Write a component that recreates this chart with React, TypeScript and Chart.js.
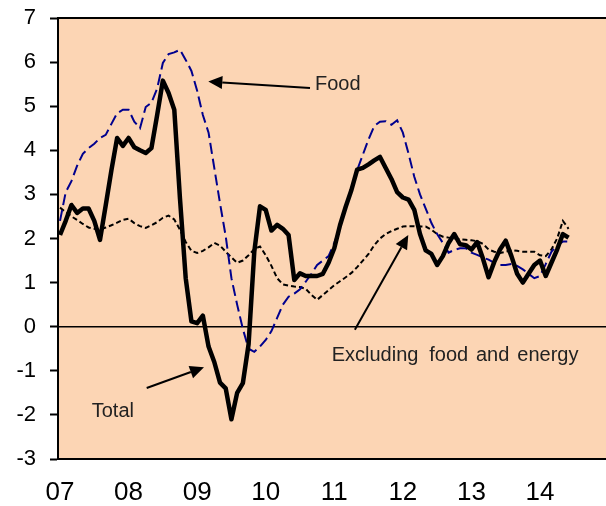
import React, { useEffect, useRef } from "react";
import { Chart, registerables } from "chart.js";

Chart.register(...registerables);

// Year tick labels (one per January)
const yearLabels = ["07", "08", "09", "10", "11", "12", "13", "14"];
const yTickValues = [-3, -2, -1, 0, 1, 2, 3, 4, 5, 6, 7];

// Monthly series, Jan 2007 onward (index = months since Jan 2007)
const total = [
  2.08, 2.4, 2.76, 2.58, 2.68, 2.68, 2.4, 1.97, 2.75, 3.55,
  4.28, 4.1, 4.28, 4.07, 4.0, 3.94, 4.05, 4.8, 5.58, 5.3,
  4.92, 2.9, 1.1, 0.12, 0.08, 0.25, -0.45, -0.8, -1.27, -1.4,
  -2.1, -1.5, -1.28, -0.4, 1.7, 2.73, 2.65, 2.18, 2.31, 2.22,
  2.08, 1.06, 1.21, 1.15, 1.15, 1.15, 1.2, 1.45, 1.78, 2.3,
  2.72, 3.1, 3.56, 3.6, 3.68, 3.77, 3.85, 3.6, 3.35, 3.05,
  2.93, 2.88, 2.65, 2.1, 1.73, 1.65, 1.4, 1.6, 1.9, 2.1,
  1.87, 1.85, 1.75, 1.92, 1.55, 1.12, 1.47, 1.75, 1.95, 1.6,
  1.2, 1.0, 1.2, 1.4, 1.5, 1.15, 1.45, 1.75, 2.1, 2.02,
];

const food = [
  2.4, 3.05, 3.3, 3.65, 3.92, 4.05, 4.15, 4.28, 4.35, 4.6,
  4.84, 4.92, 4.92, 4.65, 4.5, 4.98, 5.08, 5.4, 5.98, 6.18,
  6.22, 6.28, 6.05, 5.8, 5.35, 4.8, 4.4, 3.6, 2.8, 2.05,
  1.1, 0.5, -0.05, -0.5, -0.57, -0.45, -0.3, -0.1, 0.2, 0.5,
  0.68, 0.75, 0.85, 1.02, 1.2, 1.4, 1.5, 1.6, 1.9, 2.25,
  2.7, 3.1, 3.55, 3.9, 4.25, 4.55, 4.65, 4.66, 4.58, 4.68,
  4.4, 3.92, 3.4, 3.0, 2.68, 2.35, 2.1, 1.9, 1.68, 1.74,
  1.78, 1.78, 1.68, 1.63, 1.57, 1.52, 1.45, 1.4, 1.4, 1.42,
  1.38, 1.3, 1.2, 1.1, 1.15, 1.42, 1.7, 1.85, 1.93, 1.93,
];

const core = [
  2.7, 2.6, 2.5, 2.42, 2.33, 2.25, 2.22, 2.2, 2.25, 2.3,
  2.36, 2.42, 2.45, 2.35, 2.28, 2.24, 2.3, 2.37, 2.47, 2.52,
  2.43, 2.2, 1.92, 1.72, 1.67, 1.72, 1.8, 1.9, 1.84, 1.7,
  1.57, 1.45, 1.5, 1.62, 1.76, 1.82, 1.62, 1.38, 1.1, 0.96,
  0.93, 0.91, 0.9, 0.86, 0.72, 0.61, 0.72, 0.83, 0.94, 1.03,
  1.12, 1.22, 1.35, 1.5, 1.65, 1.85, 2.0, 2.1, 2.17, 2.22,
  2.27, 2.28, 2.28, 2.27, 2.27, 2.2, 2.1, 2.04, 2.02, 2.0,
  1.98, 1.97, 1.96, 1.94, 1.88, 1.75, 1.7, 1.67, 1.7, 1.74,
  1.72, 1.7, 1.7, 1.7, 1.62, 1.6, 1.75, 2.0, 2.4, 2.22,
];

// Annotation texts (data coordinates: month index, value)
const textNotes = [
  { text: "Food", m: 44.63, v: 5.37 },
  { text: "Total", m: 5.55, v: -2.04 },
  { text: "Excluding", m: 47.55, v: -0.77 },
  { text: "food", m: 64.63, v: -0.77 },
  { text: "and", m: 72.8, v: -0.77 },
  { text: "energy", m: 80.03, v: -0.77 },
];
const arrowNotes = [
  { from: [43.75, 5.41], to: [25.95, 5.56] },
  { from: [15.17, -1.39], to: [25.2, -0.92] },
  { from: [51.6, -0.07], to: [60.95, 2.08] },
];

const FONT = "'Liberation Sans', Arial, Helvetica, sans-serif";

const toXY = (arr: number[]) => arr.map((v, i) => ({ x: i, y: v }));

const decorPlugin = {
  id: "decor",
  beforeDraw(chart: any) {
    const { ctx, chartArea: a } = chart;
    ctx.save();
    ctx.fillStyle = "#FCD5B4";
    ctx.fillRect(a.left, a.top, a.right - a.left, a.bottom - a.top);
    ctx.restore();
  },
  beforeDatasetsDraw(chart: any) {
    const { ctx, chartArea: a, scales } = chart;
    const y0 = scales.y.getPixelForValue(0);
    ctx.save();
    ctx.strokeStyle = "#000";
    ctx.lineWidth = 1.5;
    ctx.beginPath();
    ctx.moveTo(a.left, y0);
    ctx.lineTo(a.right, y0);
    ctx.stroke();
    ctx.lineWidth = 2;
    ctx.beginPath();
    ctx.moveTo(a.left, a.top);
    ctx.lineTo(a.right, a.top);
    ctx.stroke();
    ctx.restore();
  },
  afterDatasetsDraw(chart: any) {
    const { ctx, scales } = chart;
    const px = (m: number) => scales.x.getPixelForValue(m);
    const py = (v: number) => scales.y.getPixelForValue(v);
    ctx.save();
    ctx.fillStyle = "#222";
    ctx.font = `20px ${FONT}`;
    ctx.textBaseline = "alphabetic";
    ctx.textAlign = "left";
    for (const t of textNotes) ctx.fillText(t.text, px(t.m), py(t.v));
    ctx.strokeStyle = "#000";
    ctx.fillStyle = "#000";
    ctx.lineWidth = 2;
    for (const a of arrowNotes) {
      const x1 = px(a.from[0]), y1 = py(a.from[1]);
      const x2 = px(a.to[0]), y2 = py(a.to[1]);
      const ang = Math.atan2(y2 - y1, x2 - x1);
      const len = 14, hw = 6.5;
      const bx = x2 - len * Math.cos(ang), by = y2 - len * Math.sin(ang);
      ctx.beginPath();
      ctx.moveTo(x1, y1);
      ctx.lineTo(bx, by);
      ctx.stroke();
      ctx.beginPath();
      ctx.moveTo(x2, y2);
      ctx.lineTo(bx + hw * Math.sin(ang), by - hw * Math.cos(ang));
      ctx.lineTo(bx - hw * Math.sin(ang), by + hw * Math.cos(ang));
      ctx.closePath();
      ctx.fill();
    }
    ctx.restore();
  },
};

export default function App() {
  const ref = useRef<HTMLCanvasElement>(null);
  useEffect(() => {
    document.body.style.margin = "0";
    const canvas = ref.current!;
    const chart = new Chart(canvas, {
      type: "line",
      data: {
        datasets: [
          {
            label: "Total",
            data: toXY(total),
            borderColor: "#000",
            borderWidth: 4.5,
            pointRadius: 0,
            tension: 0,
            borderJoinStyle: "round",
          },
          {
            label: "Food",
            data: toXY(food),
            borderColor: "#00008E",
            borderWidth: 2,
            borderDash: [11, 5],
            pointRadius: 0,
            tension: 0,
          },
          {
            label: "Excluding food and energy",
            data: toXY(core),
            borderColor: "#000",
            borderWidth: 2,
            borderDash: [5, 3],
            pointRadius: 0,
            tension: 0,
          },
        ],
      },
      options: {
        responsive: false,
        animation: false,
        layout: { padding: { top: 18, right: 0, left: 0, bottom: 0 } },
        plugins: { legend: { display: false }, tooltip: { enabled: false } },
        scales: {
          x: {
            type: "linear",
            min: -0.35,
            max: 95.55,
            grid: { display: false, drawTicks: false },
            border: { display: true, color: "#000", width: 2 },
            afterBuildTicks: (s: any) => {
              s.ticks = yearLabels.map((_, i) => ({ value: i * 12 }));
            },
            afterFit: (s: any) => {
              s.height = 47;
              s.paddingLeft = 0;
              s.paddingRight = 0;
            },
            ticks: {
              autoSkip: false,
              maxRotation: 0,
              padding: 18,
              color: "#000",
              font: { size: 26, family: FONT },
              callback: (v: any) => yearLabels[Math.round(Number(v) / 12)] ?? "",
            },
          },
          y: {
            min: -3,
            max: 7,
            afterBuildTicks: (s: any) => {
              s.ticks = yTickValues.map((v) => ({ value: v }));
            },
            afterFit: (s: any) => {
              s.width = 58;
              s.paddingTop = 0;
              s.paddingBottom = 0;
            },
            grid: {
              display: true,
              drawOnChartArea: false,
              drawTicks: true,
              tickLength: 8,
              tickColor: "#000",
              tickWidth: 2,
            },
            border: { display: true, color: "#000", width: 2 },
            ticks: {
              padding: 14,
              color: "#000",
              font: { size: 22, family: FONT },
            },
          },
        },
      },
      plugins: [decorPlugin],
    });
    return () => chart.destroy();
  }, []);
  return (
    <canvas
      ref={ref}
      width={606}
      height={506}
      style={{ display: "block", width: 606, height: 506 }}
    />
  );
}
